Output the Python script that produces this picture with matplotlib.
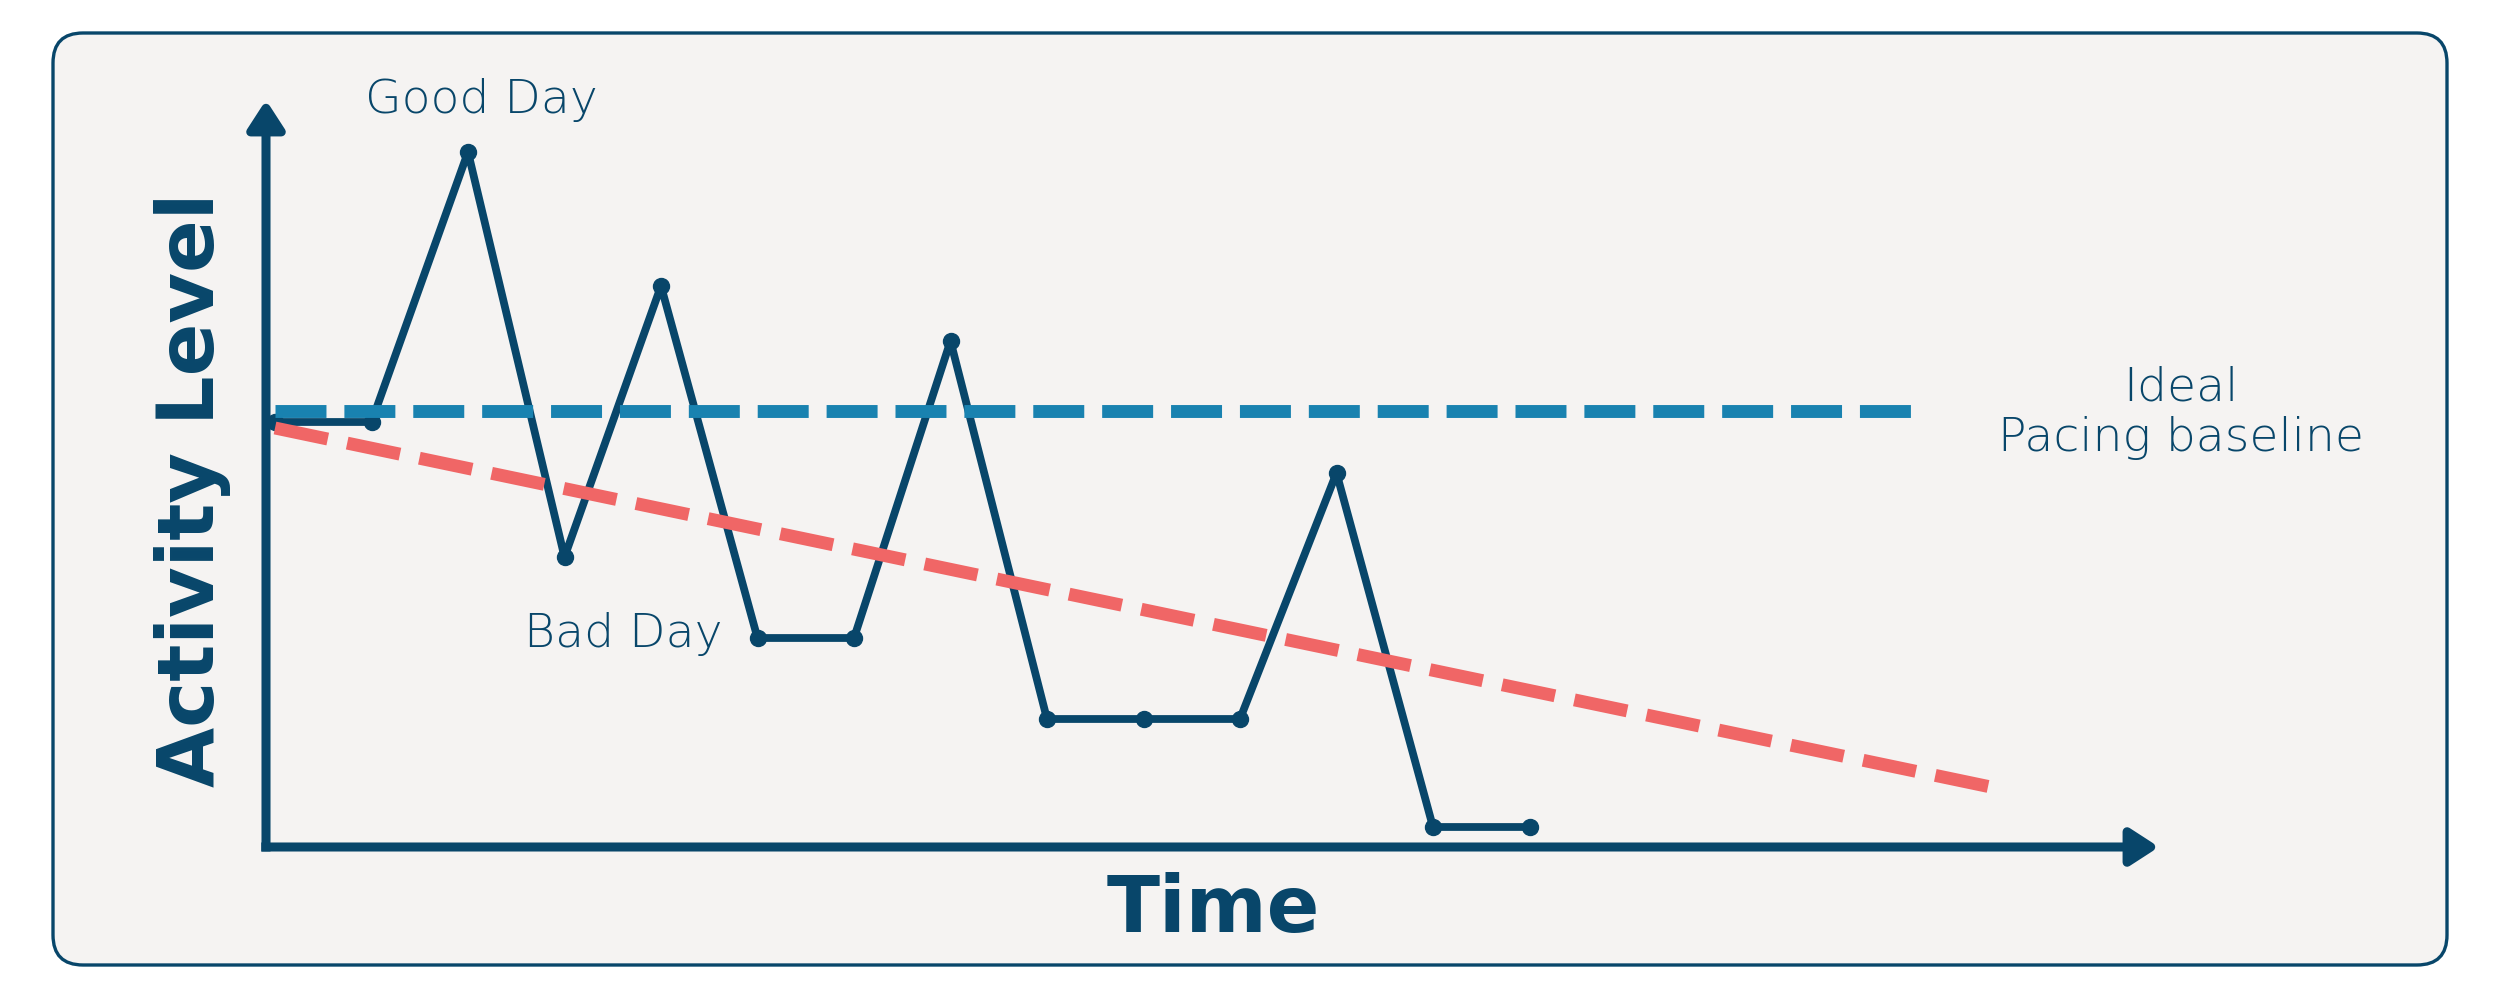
import matplotlib
matplotlib.use("Agg")
import matplotlib.pyplot as plt
from matplotlib.patches import FancyBboxPatch

# ---- data ----
time_steps = [0, 1, 2, 3, 4, 5, 6, 7, 8, 9, 10, 11, 12, 13]
activity = [42.5, 42.5, 69.5, 29.0, 56.1, 20.9, 20.9, 50.6, 12.8, 12.8, 12.8, 37.4, 2.0, 2.0]
ideal_x = [0, 16.96]
ideal_y = [43.6, 43.6]
decline_x = [0, 17.78]
decline_y = [41.9, 6.0]
labels = {"good": "Good Day", "bad": "Bad Day", "ideal": "Ideal\nPacing baseline"}
x_label = "Time"
y_label = "Activity Level"

NAVY = "#08466A"
BLUE = "#1982B0"
RED = "#F06666"
BG = "#F5F3F2"

plt.rcParams["lines.scale_dashes"] = False

fig = plt.figure(figsize=(25, 10), dpi=100)
fig.patch.set_facecolor("white")

# rounded background panel
panel = FancyBboxPatch((53 / 2500, 1 - 965 / 1000), (2447 - 53) / 2500, (965 - 33) / 1000,
                       boxstyle="round,pad=0,rounding_size=0.012",
                       transform=fig.transFigure, facecolor=BG, edgecolor=NAVY,
                       linewidth=2.4, zorder=-5, mutation_aspect=2.5)
fig.patches.append(panel)

ax = fig.add_axes([266 / 2500, 1 - 847 / 1000, (2159 - 266) / 2500, (847 - 100) / 1000])
ax.set_zorder(2)
ax.set_facecolor("none")
ax.set_xlim((266 - 275) / 96.5, (2159 - 275) / 96.5)
ax.set_ylim(0, 74.7)
for s in ax.spines.values():
    s.set_visible(False)
ax.set_xticks([])
ax.set_yticks([])

# axes arrows
arrow_kw = dict(arrowstyle="-|>,head_length=17,head_width=11", lw=6.5, color=NAVY,
                shrinkA=0, shrinkB=0, mutation_scale=1, joinstyle="round", capstyle="butt")
ax.annotate("", xy=(0, 1), xytext=(0, -0.006), xycoords="axes fraction",
            textcoords="axes fraction", arrowprops=arrow_kw, zorder=5)
ax.annotate("", xy=(1, 0), xytext=(-0.0025, 0), xycoords="axes fraction",
            textcoords="axes fraction", arrowprops=arrow_kw, zorder=5)

# activity line
ax.plot(time_steps, activity, color=NAVY, lw=5.6, marker="o", markersize=11.5,
        solid_joinstyle="round", solid_capstyle="round", zorder=3, clip_on=False)

# ideal pacing baseline
ax.plot(ideal_x, ideal_y, color=BLUE, lw=9.3, dashes=(36.7, 12.9),
        dash_capstyle="butt", zorder=4)

# declining trend
ax.plot(decline_x, decline_y, color=RED, lw=9.3, dashes=(38.8, 14.3),
        dash_capstyle="butt", zorder=4)

lab_kw = dict(color=NAVY, fontsize=34, family="DejaVu Sans", fontweight="light")
fig.text(365 / 2500, 1 - 113 / 1000, labels["good"], ha="left", va="baseline", **lab_kw)
fig.text(524 / 2500, 1 - 647 / 1000, labels["bad"], ha="left", va="baseline", **lab_kw)
fig.text(2181 / 2500, 1 - 451 / 1000, labels["ideal"], ha="center", va="baseline",
         multialignment="center", linespacing=1.2, **lab_kw)

title_kw = dict(color=NAVY, fontsize=56, family="DejaVu Sans", fontweight="bold")
fig.text(1213 / 2500, 1 - 932 / 1000, x_label, ha="center", va="baseline", **title_kw)
fig.text(214 / 2500, 1 - 490 / 1000, y_label, ha="center", va="baseline",
         rotation=90, rotation_mode="anchor", **title_kw)

fig.savefig("out.png", dpi=100, facecolor="white")
